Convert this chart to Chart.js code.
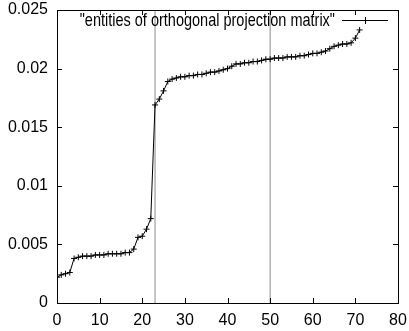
<!DOCTYPE html>
<html>
<head>
<meta charset="utf-8">
<script src="https://cdn.jsdelivr.net/npm/chart.js@4.4.1/dist/chart.umd.min.js"></script>
<style>
  html, body { margin: 0; padding: 0; background: #fff; }
  #wrap { width: 409px; height: 331px; }
</style>
</head>
<body>
<div id="wrap"><canvas id="myCanvas" width="409" height="331"></canvas></div>
<script>
// values, index 0..71
const entities = [
  0.0022, 0.0024, 0.0025, 0.0026, 0.0038, 0.0039, 0.0040, 0.0040, 0.0040, 0.0041,
  0.0041, 0.0041, 0.0042, 0.0042, 0.0042, 0.0042, 0.0043, 0.0043, 0.0046, 0.0056,
  0.0057, 0.0063, 0.0072, 0.0169, 0.0174, 0.0181, 0.0189, 0.0191, 0.0192, 0.0193,
  0.0193, 0.0194, 0.0194, 0.0195, 0.0195, 0.0196, 0.0197, 0.0197, 0.0198, 0.0199,
  0.0200, 0.0202, 0.0204, 0.0204, 0.0205, 0.0205, 0.0206, 0.0206, 0.0207, 0.0208,
  0.0208, 0.0209, 0.0209, 0.0209, 0.0210, 0.0210, 0.0210, 0.0211, 0.0211, 0.0212,
  0.0213, 0.0213, 0.0214, 0.0215, 0.0217, 0.0219, 0.0220, 0.0221, 0.0221, 0.0222,
  0.0226, 0.0233
];
const markerLines = [23, 50];  // the two vertical lines
const xTicks = [0, 10, 20, 30, 40, 50, 60, 70, 80];
const yTicks = [0, 0.005, 0.01, 0.015, 0.02, 0.025];
const yTickLabels = ["0", "0.005", "0.01", "0.015", "0.02", "0.025"];
const seriesLabel = '"entities of orthogonal projection matrix"';

const FONT = '"Liberation Sans", Arial, sans-serif';

let points = entities.map((v, i) => ({ x: i, y: v }));

let datasets = [
  {
    label: seriesLabel,
    data: points,
    borderColor: "#000",
    borderWidth: 1,
    pointStyle: "cross",
    pointRadius: 3,
    pointBorderWidth: 1,
    pointBorderColor: "#000",
    tension: 0
  }
];
markerLines.forEach((m) => {
  datasets.push({
    label: "line " + m,
    data: [{ x: m, y: yTicks[0] }, { x: m, y: yTicks[yTicks.length - 1] }],
    borderColor: "#8a8a8a",
    borderWidth: 1,
    pointRadius: 0
  });
});

// gnuplot style box: frame, inward ticks on all four sides, legend top right
const boxPlugin = {
  id: "box",
  afterDatasetsDraw(chart) {
    const ctx = chart.ctx;
    const a = chart.chartArea;
    const xs = chart.scales.x, ys = chart.scales.y;
    ctx.save();
    ctx.strokeStyle = "#000";
    ctx.lineWidth = 1;
    ctx.strokeRect(Math.round(a.left) + 0.5, Math.round(a.top) + 0.5,
      Math.round(a.right - a.left), Math.round(a.bottom - a.top));
    ctx.beginPath();
    xTicks.forEach((t) => {
      let px = Math.round(xs.getPixelForValue(t)) + 0.5;
      ctx.moveTo(px, a.bottom); ctx.lineTo(px, a.bottom - 5);
      ctx.moveTo(px, a.top); ctx.lineTo(px, a.top + 5);
    });
    yTicks.forEach((t) => {
      let py = Math.round(ys.getPixelForValue(t)) + 0.5;
      ctx.moveTo(a.left, py); ctx.lineTo(a.left + 5, py);
      ctx.moveTo(a.right, py); ctx.lineTo(a.right - 5, py);
    });
    ctx.stroke();

    // legend: text then sample line with a cross
    let sx1 = a.right - 56, sx2 = a.right - 10, ly = a.top + 10.5;
    ctx.beginPath();
    ctx.moveTo(sx1, ly); ctx.lineTo(sx2, ly);
    let cx = Math.round((sx1 + sx2) / 2) + 0.5;
    ctx.moveTo(cx, ly - 3.5); ctx.lineTo(cx, ly + 3.5);
    ctx.stroke();

    ctx.font = "14.5px " + FONT;
    ctx.fillStyle = "#000";
    ctx.textAlign = "right";
    ctx.textBaseline = "alphabetic";
    ctx.translate(sx1 - 7, a.top + 16);
    ctx.scale(1, 1.28);
    ctx.fillText(seriesLabel, 0, 0);
    ctx.restore();
  }
};

new Chart(document.getElementById("myCanvas"), {
  type: "line",
  data: { datasets: datasets },
  options: {
    responsive: false,
    animation: false,
    layout: { padding: { top: 10, right: 11, bottom: 0, left: 0 } },
    plugins: {
      legend: { display: false },
      tooltip: { enabled: false }
    },
    scales: {
      x: {
        type: "linear",
        min: 0,
        max: 80,
        afterBuildTicks: (s) => { s.ticks = xTicks.map((v) => ({ value: v })); },
        afterFit: (s) => { s.height = 28; s.paddingLeft = 0; s.paddingRight = 0; },
        grid: { display: false, drawTicks: false },
        border: { display: false },
        ticks: { color: "#000", font: { family: FONT, size: 16 }, padding: 8, maxRotation: 0 }
      },
      y: {
        type: "linear",
        min: 0,
        max: 0.025,
        afterBuildTicks: (s) => { s.ticks = yTicks.map((v) => ({ value: v })); },
        afterFit: (s) => { s.width = 57; s.paddingTop = 0; s.paddingBottom = 0; },
        grid: { display: false, drawTicks: false },
        border: { display: false },
        ticks: {
          color: "#000",
          font: { family: FONT, size: 16 },
          padding: 9,
          callback: (v) => yTickLabels[yTicks.indexOf(v)]
        }
      }
    }
  },
  plugins: [boxPlugin]
});
</script>
</body>
</html>
